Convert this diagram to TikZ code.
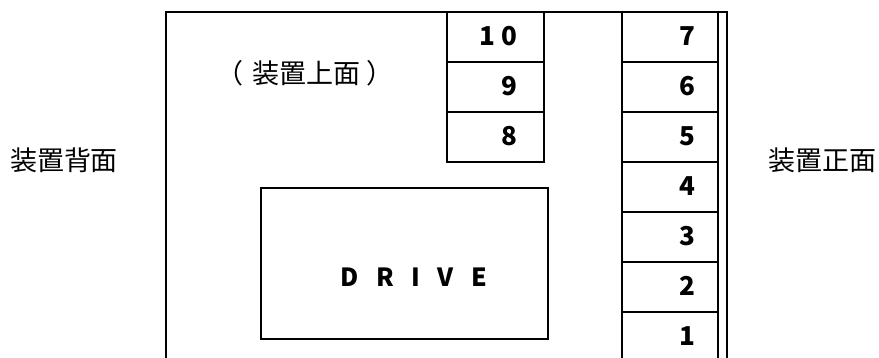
\documentclass[tikz,border=0pt]{standalone}
\usepackage{fontspec}
\setmainfont{Noto Sans CJK JP}
\begin{document}
\begin{tikzpicture}[x=1pt,y=-1pt,
  ln/.style={line width=1.8pt},
  slotbox/.style={draw,line width=1.8pt,minimum width=96pt,minimum height=50pt,inner sep=0pt,outer sep=0pt,anchor=north west},
  slotbig/.style={draw,line width=1.8pt,minimum width=97pt,minimum height=50pt,inner sep=0pt,outer sep=0pt,anchor=north west},
  num/.style={font=\fontsize{26}{26}\selectfont\bfseries,anchor=east,inner sep=0pt},
  lab/.style={font=\fontsize{27}{27}\selectfont,inner sep=0pt}]
\useasboundingbox (0,0) rectangle (879,358);
% outer frame
\draw[ln] (166,358) -- (166,12) -- (727,12) -- (727,358);
% front column 1-7
\foreach \n/\y in {7/12,6/62,5/112,4/162,3/212,2/262,1/312}{
  \node[slotbox] (s\n) at (622,\y) {};
  \node[num] (t\n) at ([xshift=-22pt,yshift=1pt]s\n.east) {\n};
}
% top column 8-10
\foreach \n/\y in {10/12,9/62,8/112}{
  \node[slotbig] (s\n) at (447,\y) {};
}
\node[num] (t10) at ([xshift=-26pt,yshift=1pt]s10.east) {1\hspace{7pt}0};
\node[num] (t9) at ([xshift=-26pt,yshift=1pt]s9.east) {9};
\node[num] (t8) at ([xshift=-26pt,yshift=1pt]s8.east) {8};
% drive
\node[draw,line width=1.8pt,minimum width=287pt,minimum height=151pt,anchor=north west,inner sep=0pt] (drive) at (260,187) {};
\node[font=\fontsize{25}{25}\selectfont\bfseries\addfontfeatures{LetterSpace=70},inner sep=0pt] (dtext) at (414,277) {DRIVE};
% labels
\node[lab,anchor=west] (top) at (216,73) {（\hspace{9pt}装置上面\hspace{6pt}）};
\node[lab] (back) at (64,160) {装置背面};
\node[lab] (front) at (822,160) {装置正面};
\end{tikzpicture}
\end{document}
